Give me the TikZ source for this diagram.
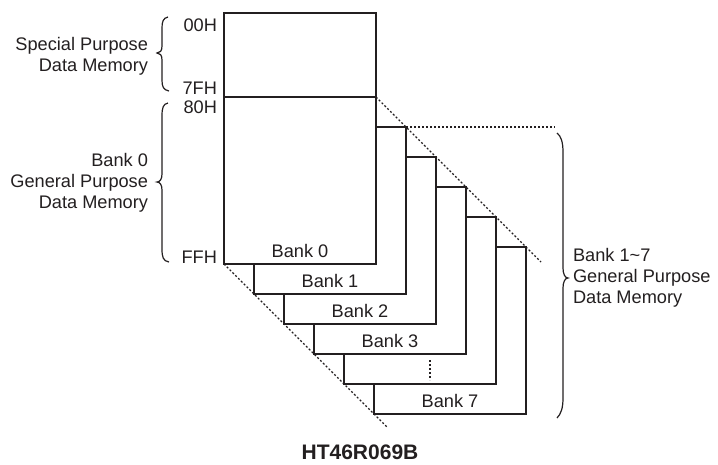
\documentclass[tikz,border=0pt]{standalone}
\usepackage{fontspec}
\setmainfont{Liberation Sans}
\definecolor{lc}{HTML}{231F20}
\begin{document}
\begin{tikzpicture}[x=1pt,y=-1pt,
  box/.style={draw=lc,fill=white,line width=1.3pt,inner sep=0pt,outer sep=0pt,minimum width=152pt,minimum height=167pt},
  lbl/.style={font=\fontsize{18.2}{21}\selectfont,text=lc,inner sep=0pt,outer sep=0pt},
  guide/.style={draw=lc,line width=1.1pt,dash pattern=on 2pt off 2pt},
  brace/.style={draw=lc,line width=1.2pt}]
\useasboundingbox (0,0) rectangle (718,464);
% banks, back to front
\node[box] (b7) at (450,330.5) {};
\node[box] (b4) at (420,300.5) {};
\node[box] (b3) at (390,270.5) {};
\node[box] (b2) at (360,240.5) {};
\node[box] (b1) at (330,210.5) {};
\node[box] (b0) at (300,180.5) {};
\node[box,minimum height=84pt] (sp) at (300,55) {};
\draw[draw=lc,line width=2pt] (sp.south west) -- (sp.south east);
% bank labels
\node[lbl,anchor=base] (t0) at ([yshift=7pt]b0.south) {Bank 0};
\node[lbl,anchor=base] (t1) at ([yshift=7pt]b1.south) {Bank 1};
\node[lbl,anchor=base] (t2) at ([yshift=7pt]b2.south) {Bank 2};
\node[lbl,anchor=base] (t3) at ([yshift=6.5pt]b3.south) {Bank 3};
\node[lbl,anchor=base] (t7) at ([yshift=6.5pt]b7.south) {Bank 7};
\coordinate (d1) at (430,360);
\coordinate (d2) at (430,380);
\draw[guide] (d1) -- (d2);
% guide lines
\coordinate (g1) at (388,428);
\coordinate (g2) at (541,262);
\coordinate (g3) at (555,127);
\draw[guide] (b0.south west) -- (g1);
\draw[guide] (b0.north east) -- (g2);
\draw[guide] (b1.north east) -- (g3);
% address labels
\node[lbl,anchor=base east] (a00) at (217,31) {00H};
\node[lbl,anchor=base east] (a7f) at (217,94) {7FH};
\node[lbl,anchor=base east] (a80) at (217,113) {80H};
\node[lbl,anchor=base east] (aff) at (217,263) {FFH};
% left texts
\node[lbl,anchor=base east] (s1) at (148,50) {Special Purpose};
\node[lbl,anchor=base east] (s2) at (148,71) {Data Memory};
\node[lbl,anchor=base east] (g01) at (148,166) {Bank 0};
\node[lbl,anchor=base east] (g02) at (148,187) {General Purpose};
\node[lbl,anchor=base east] (g03) at (148,208) {Data Memory};
% right texts
\node[lbl,anchor=base west] (r1) at (573,261) {Bank 1\textasciitilde 7};
\node[lbl,anchor=base west] (r2) at (573,282) {General Purpose};
\node[lbl,anchor=base west] (r3) at (573,303) {Data Memory};
% braces
\draw[brace] (168,17) .. controls (163,18) and (162,22) .. (162,28) -- (162,46)
  .. controls (162,51) and (160,53) .. (157,53) .. controls (160,53) and (162,55) .. (162,60)
  -- (162,80) .. controls (162,86) and (163,90) .. (169,91);
\draw[brace] (168,103) .. controls (163,104) and (162,108) .. (162,116) -- (162,174)
  .. controls (162,179) and (160,182) .. (157,182) .. controls (160,182) and (162,185) .. (162,190)
  -- (162,249) .. controls (162,257) and (163,261) .. (169,262);
\draw[brace] (557,133) .. controls (561,136) and (563,142) .. (563,152) -- (563,268)
  .. controls (563,274) and (565,278) .. (568,278) .. controls (565,278) and (563,282) .. (563,288)
  -- (563,398) .. controls (563,408) and (561,414) .. (557,418);
% title
\node[font=\fontsize{21}{24}\selectfont\bfseries,text=lc,anchor=base,inner sep=0pt] (title) at (360,459) {HT46R069B};
\end{tikzpicture}
\end{document}
